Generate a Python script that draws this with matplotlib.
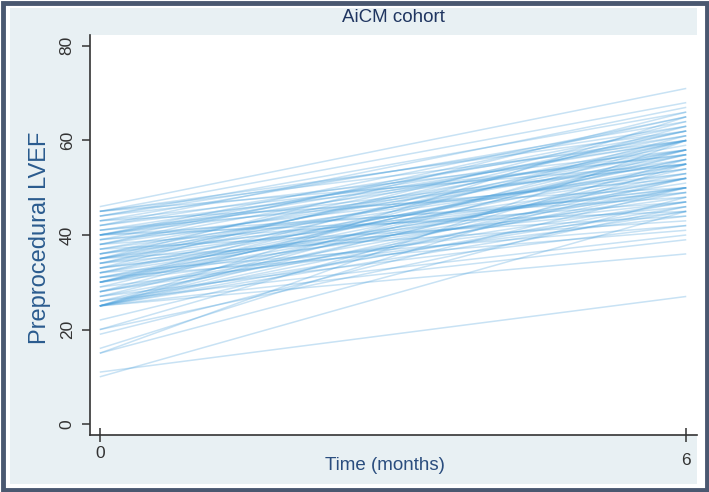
import matplotlib
matplotlib.use("Agg")
import matplotlib.pyplot as plt
from matplotlib.patches import Rectangle

# ---- data ----
time_points = [0, 6]
lvef_start = [46, 45, 45, 45, 45, 44, 44, 44, 43, 43, 43, 42, 42, 42, 41, 41, 41,
              40, 40, 40, 40, 40, 40, 40,
              39, 39, 39, 38, 38, 38, 38, 37, 37, 37, 36, 36, 36, 36,
              35, 35, 35, 35, 35, 35,
              34, 34, 34, 34, 33, 33, 33, 33, 32, 32, 32, 32, 31, 31, 31, 31,
              30, 30, 30, 30, 30, 30, 30,
              29, 29, 28, 28, 28, 28, 27, 27, 27, 26, 26, 26,
              25, 25, 25, 25, 25, 25, 25, 25, 25, 25,
              22, 20, 20, 19, 16, 15, 15, 11, 10]
lvef_end = [71, 68, 62, 55, 60, 66, 58, 63, 64, 50, 57, 67, 57, 61, 60, 52, 55,
            65, 60, 55, 48, 45, 62, 58,
            63, 53, 49, 61, 56, 47, 65, 59, 44, 54, 62, 54, 50, 58,
            66, 60, 57, 50, 43, 53,
            58, 52, 46, 62, 64, 55, 49, 47, 60, 51, 42, 56, 56, 48, 41, 52,
            63, 60, 55, 50, 45, 57, 52,
            58, 44, 61, 53, 47, 50, 57, 42, 49, 54, 40, 46,
            65, 60, 55, 50, 45, 39, 36, 52, 58, 47,
            52, 56, 46, 50, 55, 48, 60, 27, 45]
x_ticks = [0, 6]
y_ticks = [0, 20, 40, 60, 80]
title = "AiCM cohort"
x_label = "Time (months)"
y_label = "Preprocedural LVEF"

plt.rcParams['font.family'] = ['Liberation Sans', 'DejaVu Sans']

W, H = 709, 492
fig = plt.figure(figsize=(W / 100, H / 100), dpi=100, facecolor="white")

# background panels
fig.patches.append(Rectangle((10 / W, 8 / H), (697 - 10) / W, (484 - 8) / H,
                             transform=fig.transFigure, facecolor="#e8f0f3",
                             edgecolor="none", zorder=0))
fig.patches.append(Rectangle((2.5 / W, 2.5 / H), (W - 5) / W, (H - 5) / H,
                             transform=fig.transFigure, facecolor="none",
                             edgecolor="#4a5870", linewidth=3.5, zorder=1))

left, right, top, bottom = 90, 697, 35, 435
ax = fig.add_axes([left / W, 1 - bottom / H, (right - left) / W, (bottom - top) / H])
ax.set_zorder(5)
ax.set_facecolor("white")

for s, e in zip(lvef_start, lvef_end):
    ax.plot(time_points, [s, e], color="#4aa0dc", alpha=0.3, linewidth=1.1,
            solid_capstyle="butt")

ax.set_xlim(-0.10, 6.11)
ax.set_ylim(-2.3, 82.3)

for sp in ["top", "right"]:
    ax.spines[sp].set_visible(False)
for sp in ["left", "bottom"]:
    ax.spines[sp].set_color("#333333")
    ax.spines[sp].set_linewidth(1.2)

ax.set_yticks(y_ticks)
ax.set_yticklabels([str(v) for v in y_ticks], rotation=90, va="center",
                   fontsize=12.5, color="#333333")
ax.tick_params(axis="y", length=6, width=1.1, color="#333333", pad=5)

ax.set_xticks(x_ticks)
ax.set_xticklabels([])
ax.tick_params(axis="x", length=10, width=1.1, color="#333333", direction="inout")
xt = ax.get_xaxis_transform()
for i, v in enumerate(x_ticks):
    ax.text(v, -0.027 - 0.018 * i, str(v), transform=xt, ha="center", va="top",
            fontsize=12.5, color="#333333")

fig.text(393 / W, 1 - 18 / H, title, ha="center", va="center", fontsize=13.5,
         color="#1f3560", zorder=6)
fig.text(385 / W, 1 - 465 / H, x_label, ha="center", va="center", fontsize=13.5,
         color="#2a4d7e", zorder=6)
fig.text(40 / W, 1 - 238 / H, y_label, ha="center", va="center", rotation=90,
         fontsize=17, color="#2a5b8e", zorder=6)

fig.savefig("out.png", dpi=100, facecolor="white")
